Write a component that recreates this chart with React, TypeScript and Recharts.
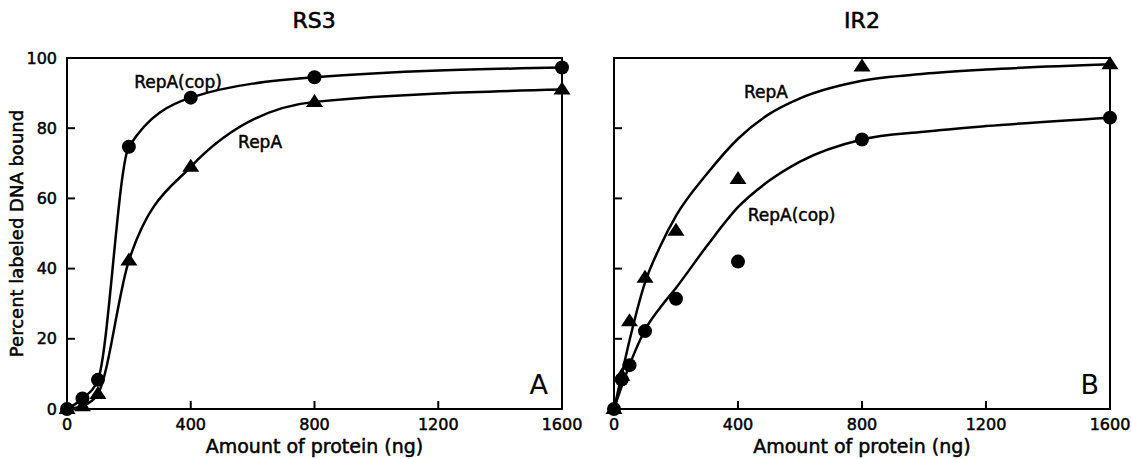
import {
  ComposedChart,
  Line,
  Scatter,
  XAxis,
  YAxis,
  ReferenceArea,
  ReferenceDot,
} from 'recharts';

const FONT = '"DejaVu Sans", sans-serif';

// RS3 (panel A)
const doseA = [0, 50, 100, 200, 400, 800, 1600];
const rs3Cop = [0, 3, 8.3, 74.7, 88.7, 94.5, 97.3];
const rs3RepA = [0, 0.8, 4.3, 42.3, 69, 87.5, 91];

// IR2 (panel B) - measured points
const doseB = [0, 25, 50, 100, 200, 400, 800, 1600];
const ir2Cop = [0, 8.4, 12.5, 22.2, 31.4, 42, 76.8, 83];
const ir2RepA = [0, 9.5, 25, 37.4, 50.8, 65.5, 97.6, 98.2];

// IR2 drawn curves
const fitDoseB = [0, 25, 50, 100, 150, 200, 300, 400, 500, 600, 800, 1000, 1200, 1600];
const ir2RepAFit = [0, 9.8, 19.5, 36, 46.5, 55, 67, 77, 84, 88.5, 93.5, 95.5, 96.7, 98.2];
const ir2CopFit = [0, 6.5, 12.5, 22.5, 29, 34.5, 46.5, 57.5, 65, 70.5, 76.8, 79, 80.6, 83];

const xTicks = [0, 400, 800, 1200, 1600];
const yTicks = [0, 20, 40, 60, 80, 100];

const toPoints = (xs: number[], ys: number[]) => xs.map((x, i) => ({ x, y: ys[i] }));

const Dot = (p: any) => <circle cx={p.cx} cy={p.cy} r={7} fill="#000" />;
const Tri = (p: any) => (
  <polygon
    points={`${p.cx},${p.cy - 8} ${p.cx + 8.5},${p.cy + 5} ${p.cx - 8.5},${p.cy + 5}`}
    fill="#000"
  />
);

const ink = { fill: '#000', stroke: '#000', strokeWidth: 0.5, fontFamily: FONT };
const tickStyle = { fontSize: 16, ...ink };
const axisStroke = { stroke: '#000', strokeWidth: 2 };
const noteStyle = { fontSize: 17, ...ink };
const xLabel = { value: 'Amount of protein (ng)', position: 'insideBottom', offset: 6, fontSize: 19, ...ink } as any;

const Title = ({ text, cx }: { text: string; cx: number }) => (
  <div
    style={{
      position: 'absolute',
      left: cx - 60,
      width: 120,
      top: 8,
      textAlign: 'center',
      fontFamily: FONT,
      fontSize: 22,
      lineHeight: '26px',
      color: '#000',
      WebkitTextStroke: '0.6px #000',
    }}
  >
    {text}
  </div>
);

export default function App() {
  return (
    <div style={{ position: 'absolute', left: 0, top: 0, width: 1131, height: 459, background: '#fff' }}>
      <Title text="RS3" cx={314} />
      <Title text="IR2" cx={862} />

      <div style={{ position: 'absolute', left: 0, top: 0 }}>
        <ComposedChart width={600} height={459} margin={{ top: 58, right: 38, bottom: 0, left: 12 }}>
          <XAxis
            type="number"
            dataKey="x"
            domain={[0, 1600]}
            ticks={xTicks}
            tickSize={-8}
            tickMargin={18}
            tickLine={axisStroke}
            axisLine={axisStroke}
            tick={tickStyle}
            height={50}
            label={xLabel}
          />
          <YAxis
            type="number"
            dataKey="y"
            domain={[0, 100]}
            ticks={yTicks}
            tickSize={-8}
            tickMargin={18}
            tickLine={axisStroke}
            axisLine={axisStroke}
            tick={tickStyle}
            width={55}
            label={{
              value: 'Percent labeled DNA bound',
              angle: -90,
              position: 'insideLeft',
              offset: 5,
              fontSize: 18,
              ...ink,
              style: { textAnchor: 'middle' },
            }}
          />
          <ReferenceArea x1={0} x2={1600} y1={0} y2={100} fill="none" stroke="#000" strokeWidth={2} />
          <Line data={toPoints(doseA, rs3Cop)} dataKey="y" type="monotone" stroke="#000" strokeWidth={2.5} dot={false} isAnimationActive={false} />
          <Line data={toPoints(doseA, rs3RepA)} dataKey="y" type="monotone" stroke="#000" strokeWidth={2.5} dot={false} isAnimationActive={false} />
          <Scatter data={toPoints(doseA, rs3RepA)} dataKey="y" shape={Tri} isAnimationActive={false} />
          <Scatter data={toPoints(doseA, rs3Cop)} dataKey="y" shape={Dot} isAnimationActive={false} />
          <ReferenceDot x={359} y={93.2} r={0} stroke="none" label={{ value: 'RepA(cop)', position: 'center', ...noteStyle }} />
          <ReferenceDot x={624} y={76} r={0} stroke="none" label={{ value: 'RepA', position: 'center', ...noteStyle }} />
          <ReferenceDot x={1525} y={7} r={0} stroke="none" label={{ value: 'A', position: 'center', fontSize: 27, fill: '#000', fontFamily: FONT }} />
        </ComposedChart>
      </div>

      <div style={{ position: 'absolute', left: 580, top: 0 }}>
        <ComposedChart width={551} height={459} margin={{ top: 58, right: 21, bottom: 0, left: 4 }}>
          <XAxis
            type="number"
            dataKey="x"
            domain={[0, 1600]}
            ticks={xTicks}
            tickSize={-8}
            tickMargin={18}
            tickLine={axisStroke}
            axisLine={axisStroke}
            tick={tickStyle}
            height={50}
            label={xLabel}
          />
          <YAxis
            type="number"
            dataKey="y"
            domain={[0, 100]}
            ticks={yTicks}
            tickSize={-8}
            tickMargin={18}
            tickLine={axisStroke}
            axisLine={axisStroke}
            tick={tickStyle}
            tickFormatter={() => ''}
            width={30}
          />
          <ReferenceArea x1={0} x2={1600} y1={0} y2={100} fill="none" stroke="#000" strokeWidth={2} />
          <Line data={toPoints(fitDoseB, ir2RepAFit)} dataKey="y" type="monotone" stroke="#000" strokeWidth={2.5} dot={false} isAnimationActive={false} />
          <Line data={toPoints(fitDoseB, ir2CopFit)} dataKey="y" type="monotone" stroke="#000" strokeWidth={2.5} dot={false} isAnimationActive={false} />
          <Scatter data={toPoints(doseB, ir2RepA)} dataKey="y" shape={Tri} isAnimationActive={false} />
          <Scatter data={toPoints(doseB, ir2Cop)} dataKey="y" shape={Dot} isAnimationActive={false} />
          <ReferenceDot x={490} y={90.2} r={0} stroke="none" label={{ value: 'RepA', position: 'center', ...noteStyle }} />
          <ReferenceDot x={573} y={55.4} r={0} stroke="none" label={{ value: 'RepA(cop)', position: 'center', ...noteStyle }} />
          <ReferenceDot x={1535} y={7} r={0} stroke="none" label={{ value: 'B', position: 'center', fontSize: 27, fill: '#000', fontFamily: FONT }} />
        </ComposedChart>
      </div>
    </div>
  );
}
